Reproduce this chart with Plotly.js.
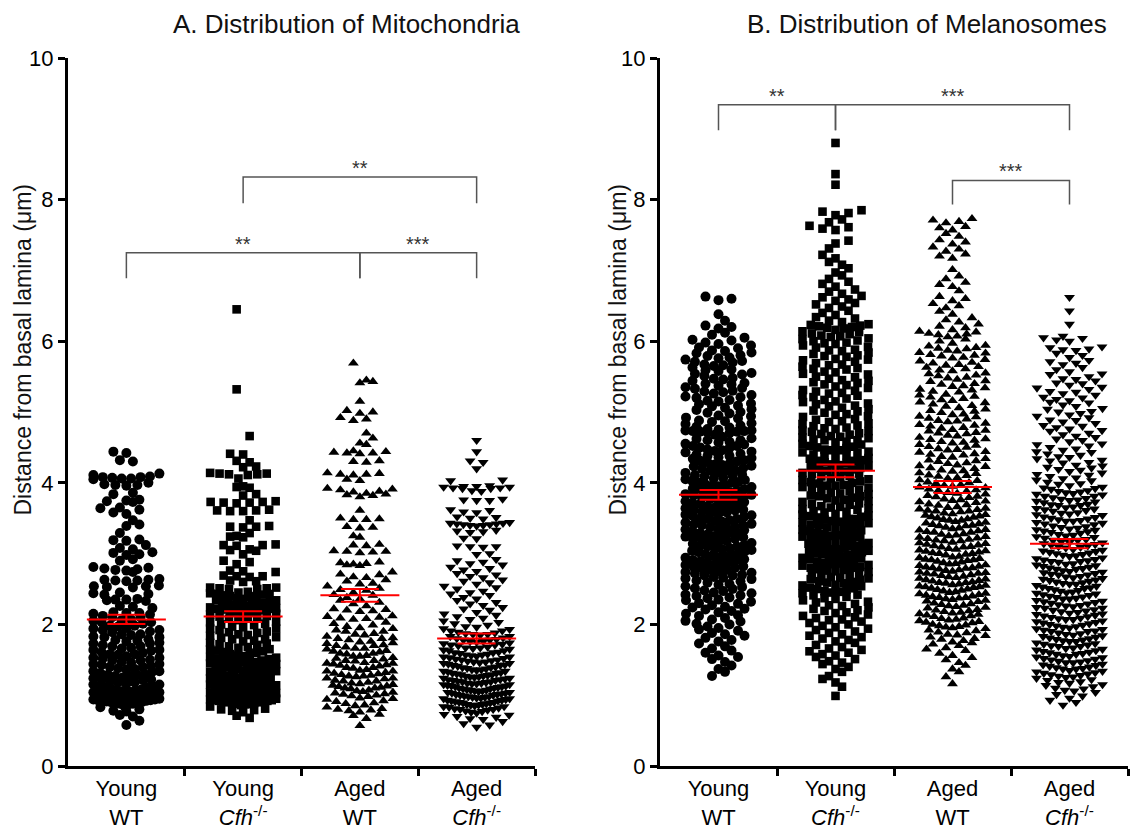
<!DOCTYPE html>
<html><head><meta charset="utf-8">
<script src="https://cdn.plot.ly/plotly-3.0.1.min.js"></script>
<style>html,body{margin:0;padding:0;background:#fff}#chart{width:1133px;height:834px}</style>
</head><body><div id="chart"></div>
<script>
// ---------------- data (µm) ----------------
const groups = ['Young<br>WT', 'Young<br><i>Cfh</i><sup>-/-</sup>', 'Aged<br>WT', 'Aged<br><i>Cfh</i><sup>-/-</sup>'];
const yTicks = [0, 2, 4, 6, 8, 10];

const mitoYoungWT = [4.44,4.42,4.32,4.30,4.13,4.11,4.09,4.08,4.08,4.07,4.06,4.06,4.05,4.00,3.98,3.97,3.97,3.96,3.86,3.84,3.76,3.75,3.74,3.73,3.65,3.64,3.62,3.58,3.56,3.47,3.41,3.39,3.29,3.20,3.19,3.18,3.12,3.08,3.06,3.02,3.01,2.99,2.98,2.92,2.90,2.81,2.80,2.79,2.78,2.77,2.76,2.74,2.64,2.63,2.63,2.62,2.62,2.61,2.55,2.54,2.54,2.53,2.52,2.45,2.44,2.43,2.42,2.36,2.35,2.35,2.34,2.33,2.26,2.25,2.23,2.17,2.16,2.16,2.15,2.14,
2.12,2.10,2.10,2.07,2.06,2.05,2.03,2.03,2.01,1.98,1.98,1.97,1.95,1.94,1.92,1.92,1.90,1.89,1.86,1.86,1.85,1.83,1.82,1.82,1.79,1.78,1.77,1.76,1.74,1.73,1.73,1.71,1.69,1.69,1.67,1.66,1.64,1.64,1.63,1.61,1.60,1.58,1.58,1.57,1.55,1.53,1.53,1.52,1.50,1.49,1.49,1.47,1.46,1.44,1.44,1.43,1.41,1.40,1.40,1.38,1.37,1.36,1.34,1.34,1.33,1.31,1.30,1.29,1.29,1.27,1.26,1.25,1.24,1.22,1.22,1.21,1.19,1.18,1.18,1.16,1.15,1.15,1.13,1.12,1.11,1.11,1.09,1.08,1.07,1.07,1.05,1.04,1.04,1.03,1.01,1.00,1.00,0.99,0.98,0.97,0.97,0.96,0.95,0.94,0.94,0.93,0.92,0.92,0.91,0.90,0.90,0.89,0.89,0.88,0.88,0.87,0.96,1.02,1.06,0.93,
0.85,0.83,0.80,0.78,0.77,0.72,0.70,0.64,0.58];

const mitoYoungCfh = [6.45,5.32,4.66,4.41,4.40,4.31,4.29,4.23,4.22,4.14,4.13,4.13,4.12,4.12,4.11,4.06,3.95,3.94,3.93,3.84,3.82,3.74,3.73,3.73,3.72,3.72,3.71,3.62,3.61,3.61,3.60,3.60,3.47,3.39,3.38,3.38,3.37,3.29,3.25,3.24,3.23,3.13,3.12,3.12,3.11,3.06,3.05,3.04,2.99,2.90,2.88,2.85,2.76,2.75,2.74,2.69,2.68,2.68,2.67,2.62,2.61,2.60,2.52,2.52,2.51,2.51,2.50,2.50,
2.46,2.45,2.44,2.43,2.43,2.41,2.40,2.40,2.38,2.37,2.36,2.34,2.34,2.33,2.31,2.30,2.30,2.29,2.27,2.26,2.26,2.24,2.23,2.22,2.22,2.20,2.19,2.18,2.18,2.17,2.16,2.15,2.42,2.28,2.21,
2.14,2.12,2.11,2.09,2.08,2.08,2.06,2.04,2.03,2.01,2.00,1.99,1.97,1.96,1.94,1.94,1.92,1.90,1.89,1.88,1.86,1.85,1.84,1.82,1.81,1.79,1.79,1.77,1.76,1.74,1.73,1.72,1.71,1.69,1.68,1.67,1.65,1.65,1.63,1.62,1.61,1.60,1.58,1.57,1.56,1.55,1.54,1.53,1.51,1.50,1.49,1.48,1.47,1.47,1.45,1.44,1.43,1.42,1.41,1.40,1.39,1.38,1.38,1.36,1.35,1.34,1.33,1.33,1.31,1.30,1.29,1.28,1.27,1.27,1.25,1.24,1.23,1.22,1.21,1.21,1.19,1.18,1.17,1.16,1.16,1.14,1.13,1.12,1.12,1.11,1.09,1.08,1.07,1.07,1.06,1.04,1.03,1.03,1.02,1.00,0.99,0.99,0.98,0.97,0.96,0.96,0.94,0.93,0.93,0.92,0.91,0.91,0.90,0.89,0.89,0.88,0.87,0.86,1.46,1.37,1.32,1.26,1.20,1.15,1.10,1.05,1.01,0.98,0.95,0.92,0.90,0.88,1.52,1.41,1.19,1.06,
0.84,0.81,0.80,0.79,0.78,0.76,0.71,0.68];

const mitoAgedWT = [5.69,5.45,5.43,5.41,5.15,5.02,5.00,4.98,4.92,4.90,4.88,4.70,4.63,4.56,4.54,4.45,4.44,4.43,4.42,4.42,4.41,4.31,4.30,4.29,4.14,4.13,4.12,4.12,4.11,4.05,4.03,3.92,3.91,3.90,3.88,3.87,3.85,3.84,3.83,3.82,3.80,3.61,3.50,3.49,3.48,3.48,3.38,3.37,3.36,3.25,3.23,3.13,3.12,3.11,3.04,3.03,3.03,3.02,3.01,
2.88,2.87,2.86,2.85,2.84,2.83,2.74,2.71,2.70,2.67,2.66,2.63,2.61,2.58,2.57,2.54,2.51,2.49,2.48,2.45,2.42,2.41,2.38,2.36,2.34,2.31,2.29,2.26,2.22,2.21,2.20,2.19,2.18,2.12,2.11,2.10,2.09,2.08,2.07,2.03,2.01,1.99,1.97,
1.95,1.94,1.92,1.90,1.90,1.87,1.86,1.85,1.83,1.81,1.80,1.80,1.78,1.76,1.75,1.74,1.73,1.71,1.70,1.70,1.68,1.66,1.66,1.65,1.63,1.62,1.61,1.59,1.59,1.58,1.56,1.55,1.55,1.53,1.52,1.51,1.49,1.49,1.48,1.46,1.45,1.45,1.43,1.42,1.41,1.39,1.39,1.38,1.36,1.35,1.34,1.34,1.32,1.31,1.30,1.29,1.28,1.27,1.26,1.24,1.24,1.23,1.21,1.20,1.20,1.18,1.17,1.16,1.15,1.14,1.13,1.12,1.10,1.10,1.09,1.07,1.06,1.05,1.04,1.02,1.01,1.00,0.99,0.98,0.96,0.95,0.94,0.92,0.91,0.89,0.88,0.86,0.85,0.83,0.81,0.80,0.79,0.78,0.76,0.73,0.71,0.67,0.57,1.44,1.27,1.11,1.03];

const mitoAgedCfh = [4.60,4.44,4.31,4.29,4.20,4.04,4.03,3.96,3.95,3.95,3.94,3.94,3.93,3.93,3.92,3.92,3.89,3.88,3.77,3.76,3.75,3.75,3.62,3.61,3.59,3.58,3.52,3.51,3.50,3.49,3.44,3.43,3.43,3.42,3.42,3.41,3.41,3.40,3.40,3.39,3.33,3.32,3.31,3.30,3.22,3.21,3.11,3.10,3.10,3.09,3.00,2.99,
2.92,2.90,2.88,2.86,2.84,2.81,2.79,2.77,2.75,2.72,2.70,2.68,2.66,2.63,2.61,2.59,2.57,2.54,2.52,2.50,2.47,2.45,2.43,2.41,2.38,2.36,2.34,2.31,2.29,2.27,2.24,2.22,2.20,2.17,2.15,2.13,2.11,2.09,2.07,2.05,
2.03,2.01,1.99,1.97,1.96,1.94,1.93,1.91,1.91,1.89,1.88,1.87,1.86,1.86,1.85,1.83,1.83,1.81,1.80,1.79,1.78,1.78,1.76,1.76,1.75,1.74,1.73,1.72,1.71,1.71,1.70,1.68,1.67,1.67,1.66,1.65,1.64,1.63,1.63,1.61,1.60,1.60,1.59,1.58,1.57,1.57,1.56,1.55,1.54,1.54,1.53,1.52,1.51,1.50,1.50,1.49,1.48,1.47,1.47,1.46,1.45,1.45,1.44,1.43,1.42,1.42,1.41,1.40,1.39,1.39,1.38,1.37,1.36,1.36,1.35,1.34,1.34,1.33,1.32,1.31,1.31,1.30,1.29,1.29,1.28,1.27,1.27,1.26,1.26,1.25,1.24,1.24,1.23,1.22,1.22,1.21,1.21,1.20,1.19,1.19,1.18,1.17,1.17,1.16,1.16,1.15,1.15,1.14,1.13,1.13,1.12,1.12,1.11,1.10,1.10,1.09,1.09,1.08,1.07,1.07,1.06,1.06,1.05,1.04,1.04,1.03,1.03,1.02,1.01,1.01,1.00,1.00,0.99,0.98,0.98,0.97,0.97,0.96,0.96,0.95,0.95,0.94,0.93,0.93,0.92,0.92,0.91,0.90,0.90,0.89,0.89,0.88,0.87,0.87,0.86,0.86,0.85,0.84,0.84,0.83,0.82,0.81,0.80,0.80,0.79,0.78,0.77,0.76,0.75,0.73,0.72,0.70,0.69,0.67,0.66,0.63,0.60,0.58,0.55];

const melYoungWT = [6.63,6.60,6.58,6.38,6.29,6.22,6.20,6.18,6.12,6.09,6.05,6.02,6.01,5.98,5.96,5.94,5.91,5.90,5.87,5.86,5.84,5.83,5.80,5.79,5.77,5.76,5.74,5.72,5.71,5.70,5.67,5.66,5.65,5.63,5.60,5.59,5.58,5.55,5.54,5.53,5.51,5.48,5.47,5.46,5.44,5.41,5.40,5.39,5.37,5.35,5.34,5.33,5.30,5.29,5.28,5.26,5.24,5.22,5.21,5.20,5.17,5.16,5.15,5.12,5.11,5.09,5.08,5.06,5.04,5.03,5.00,4.99,4.98,4.95,4.94,4.92,4.91,4.88,4.87,4.86,4.84,4.83,4.81,4.79,4.78,4.76,
4.75,4.74,4.74,4.73,4.73,4.72,4.72,4.71,4.70,4.68,
4.65,4.63,4.62,4.60,4.60,4.58,4.57,4.55,4.54,4.52,4.52,4.50,4.49,4.47,4.46,4.45,4.44,4.43,4.41,4.40,4.38,4.38,4.36,4.35,4.34,4.32,4.31,4.30,4.29,4.27,4.26,4.25,4.24,4.23,4.21,4.20,4.18,4.17,4.17,4.15,4.14,4.12,4.11,4.10,4.09,4.07,4.06,4.05,
4.04,4.03,4.01,4.00,4.00,3.98,3.97,3.96,3.95,3.94,3.92,3.91,3.91,3.89,3.88,3.87,3.86,3.85,3.84,3.83,3.82,3.80,3.79,3.79,3.77,3.76,3.75,3.74,3.73,3.71,3.70,3.70,3.68,3.67,3.66,3.65,3.64,3.62,3.61,3.61,3.59,3.58,3.57,3.56,3.55,3.54,3.53,3.52,3.50,3.49,3.49,3.47,3.46,3.45,3.44,3.42,3.41,3.40,3.40,3.38,3.37,3.36,3.35,3.34,3.33,3.31,3.30,3.29,3.29,3.27,3.26,3.25,3.24,3.23,3.21,3.21,3.19,3.18,3.17,3.16,3.15,3.14,3.12,3.11,3.10,3.10,3.08,3.07,3.06,3.05,3.04,3.03,3.02,3.00,2.99,2.99,2.97,2.96,2.95,2.94,2.92,2.91,2.91,2.89,2.88,2.87,2.86,2.85,
2.84,2.82,2.81,2.80,2.79,2.77,2.77,2.75,2.74,2.73,2.72,2.70,2.69,2.69,2.67,2.66,2.65,
2.64,2.62,2.61,2.59,2.57,2.56,2.54,2.53,2.51,2.50,2.48,2.47,2.45,2.44,2.42,2.41,2.40,2.38,2.37,2.35,2.34,2.32,2.30,2.29,2.27,2.25,2.24,2.22,2.21,2.19,2.17,2.15,2.13,2.12,2.09,2.07,2.05,2.04,2.01,2.00,1.97,1.95,1.93,1.91,1.88,1.86,1.84,1.81,1.78,1.76,1.73,1.69,1.66,1.63,1.60,1.56,1.54,1.51,1.47,1.42,1.37,1.33,1.27];

const melYoungCfh = [8.80,8.36,8.21,7.85,7.83,7.81,7.78,7.72,7.68,7.63,7.61,7.59,7.57,7.42,7.38,7.31,7.22,7.17,7.12,7.08,7.03,6.97,6.93,6.88,6.84,6.81,6.77,6.73,6.70,6.67,6.64,6.62,6.59,6.57,6.54,6.52,6.49,6.47,6.43,6.40,6.37,6.34,6.32,6.29,6.27,
6.24,6.23,6.22,6.21,6.20,6.19,6.18,6.16,6.14,6.13,6.11,6.10,6.08,6.07,6.06,6.04,6.03,6.01,6.00,5.98,5.97,5.96,
5.94,5.92,5.91,5.88,5.87,5.86,5.84,5.82,5.80,5.79,5.78,5.75,5.74,5.73,5.71,5.69,5.67,5.66,5.64,5.62,5.61,5.60,5.57,5.56,5.54,5.53,5.50,5.49,5.47,5.45,5.44,5.42,5.41,5.39,5.38,5.36,5.34,5.31,5.30,5.29,5.27,5.26,5.24,5.23,5.21,5.19,5.17,5.15,5.14,5.12,5.11,5.09,5.08,5.06,
5.04,5.02,5.01,4.99,4.97,4.96,4.94,4.93,4.90,4.89,4.87,4.86,4.84,4.83,4.81,4.80,4.78,4.77,4.76,
4.74,4.73,4.72,4.70,4.69,4.68,4.66,4.65,4.64,4.63,4.61,4.60,4.60,4.58,4.57,4.55,4.54,4.52,4.51,4.50,4.49,4.47,4.46,4.46,4.44,4.43,4.42,4.40,4.39,4.38,4.36,4.35,4.34,4.32,4.31,4.31,4.29,4.28,4.26,4.25,4.24,4.23,4.21,4.20,4.19,4.17,4.16,4.15,4.14,4.13,4.12,4.10,4.09,4.08,4.06,4.05,4.04,4.02,4.01,4.00,3.99,3.97,3.96,3.96,3.94,3.93,3.92,3.90,3.89,3.88,3.86,3.85,3.84,3.82,3.81,3.81,3.79,3.78,3.76,3.75,3.74,3.73,3.71,3.70,3.69,3.67,3.66,3.65,3.64,3.63,3.62,3.60,3.59,3.58,3.56,3.55,
3.54,3.53,3.52,3.51,3.49,3.48,3.47,3.46,3.45,3.44,3.43,3.41,3.41,3.40,3.38,3.37,3.36,3.35,3.34,3.33,3.32,3.30,3.29,3.28,3.28,3.26,3.25,3.24,3.23,3.22,3.21,3.19,3.18,3.17,3.16,3.15,
3.14,3.13,3.12,3.11,3.10,3.10,3.08,3.07,3.06,3.06,3.04,3.03,3.02,3.01,3.01,2.99,2.98,2.97,2.96,2.96,2.94,2.93,2.92,2.91,2.89,2.88,2.87,2.86,2.85,2.84,2.83,2.81,2.80,2.80,2.78,2.77,2.76,2.75,2.74,2.73,2.71,2.70,2.69,2.67,2.66,2.65,2.64,2.63,2.61,2.60,2.59,2.58,2.56,2.55,2.54,2.52,2.51,2.50,2.49,2.47,2.46,2.45,2.44,2.42,2.41,2.39,2.37,2.36,2.34,2.32,2.31,2.29,2.27,2.26,
2.24,2.22,2.20,2.19,2.17,2.16,2.14,2.12,2.10,2.09,2.07,2.06,2.04,2.02,2.00,1.98,1.96,1.94,1.92,1.90,1.88,1.86,1.84,1.82,1.80,1.78,1.76,1.74,1.71,1.68,1.66,1.64,1.62,1.60,1.58,1.56,1.54,1.51,1.48,1.46,1.44,1.40,1.37,1.33,1.27,1.23,1.18,1.12,0.99];

const melAgedWT = [7.73,7.71,7.69,7.67,7.62,7.60,7.57,7.52,7.48,7.43,7.40,7.37,7.33,7.30,7.27,7.23,7.20,7.17,7.01,6.92,6.88,6.83,6.80,6.77,6.71,6.63,6.60,6.57,6.53,6.50,6.47,6.42,6.38,6.33,6.30,6.27,6.24,6.21,6.19,6.16,
6.14,6.13,6.11,6.10,6.09,6.07,6.06,6.03,6.00,5.97,5.94,5.93,5.91,5.90,5.89,5.87,5.86,5.84,5.83,5.81,5.80,5.79,5.77,5.76,
5.74,5.72,5.70,5.69,5.67,5.66,5.64,5.63,5.61,5.59,5.58,5.55,5.54,5.52,5.51,5.49,5.48,5.46,5.44,5.43,5.40,5.39,5.37,5.36,5.34,5.32,5.31,5.29,5.28,5.25,5.24,5.22,5.21,5.19,5.17,5.16,5.14,5.13,5.11,5.09,5.08,5.06,5.04,5.02,5.01,4.99,4.97,4.96,
4.94,4.93,4.91,4.90,4.88,4.87,4.86,4.84,4.82,4.81,4.80,4.78,4.77,4.75,4.74,4.73,4.71,4.70,4.69,4.67,4.66,4.64,4.62,4.61,4.60,4.58,4.57,4.56,4.54,4.53,4.51,4.50,4.48,4.47,4.46,4.44,4.43,4.41,4.40,4.39,4.37,4.36,4.34,4.32,4.31,4.30,4.28,4.27,4.25,
4.24,4.23,4.21,4.20,4.18,4.17,4.16,4.14,4.13,4.11,4.10,4.09,4.07,4.06,
4.04,4.03,4.01,4.00,3.99,3.97,3.96,3.95,3.94,3.93,3.91,3.90,3.89,3.88,3.86,3.85,3.84,3.82,3.81,3.80,3.79,3.77,3.76,3.75,3.74,3.73,3.72,3.70,3.69,3.68,3.66,3.65,
3.64,3.63,3.62,3.61,3.60,3.60,3.59,3.57,3.56,3.55,3.54,3.53,3.52,3.51,3.50,3.49,3.48,3.47,3.47,3.45,3.44,3.43,3.42,3.41,3.40,3.39,3.39,3.37,3.36,3.35,3.34,3.33,3.32,3.31,3.30,3.30,3.28,3.27,3.26,3.25,3.24,3.23,3.22,3.21,3.20,3.19,3.18,3.18,3.16,3.15,3.14,3.13,3.12,3.11,3.10,3.09,3.09,3.07,3.06,3.05,3.04,3.03,3.02,3.01,3.00,3.00,2.99,2.98,2.96,2.95,
2.94,2.93,2.92,2.91,2.91,2.90,2.89,2.88,2.87,2.86,2.85,2.84,2.83,2.82,2.81,2.80,2.80,2.79,2.78,2.77,2.76,2.75,2.74,2.73,2.72,2.72,2.71,2.70,2.69,2.68,2.67,2.66,2.65,2.64,2.63,2.62,2.61,2.60,2.59,2.59,2.58,2.57,2.56,2.55,2.54,2.53,2.53,2.52,2.51,2.50,2.49,2.48,2.47,2.46,2.45,2.44,2.43,2.42,2.41,2.40,2.39,2.38,2.38,2.37,2.36,2.35,
2.34,2.33,2.32,2.30,2.29,2.28,2.27,2.26,2.25,2.24,2.23,2.21,2.20,2.19,2.18,2.17,2.16,2.15,2.14,2.13,2.12,2.11,2.09,2.08,2.07,2.06,2.05,2.04,2.03,2.02,2.00,1.99,1.98,1.97,1.96,1.95,
1.94,1.92,1.91,1.89,1.88,1.86,1.85,1.84,1.82,1.80,1.79,1.77,1.75,1.74,1.72,1.70,1.67,1.65,1.63,1.59,1.56,1.53,1.50,1.46,1.42,1.37,1.33,1.26,1.16];

const melAgedCfh = [6.62,6.43,6.24,6.07,6.05,6.04,6.02,6.00,5.92,5.91,5.89,5.88,5.87,5.83,5.80,5.77,5.73,5.71,5.69,5.67,5.63,5.60,5.57,
5.54,5.53,5.50,5.47,5.46,5.44,5.41,5.40,5.38,5.35,5.34,5.32,5.29,5.28,5.26,5.24,5.21,5.20,5.18,5.16,5.14,5.13,5.10,5.08,5.05,5.04,5.01,5.00,4.98,4.96,
4.94,4.92,4.89,4.88,4.86,4.84,4.81,4.80,4.78,4.76,4.74,4.73,4.70,4.68,4.66,4.64,4.62,4.60,4.58,4.55,4.54,4.52,4.50,4.48,4.46,
4.44,4.43,4.41,4.39,4.37,4.36,4.34,4.32,4.31,4.29,4.28,4.25,4.24,4.22,4.21,4.19,4.18,4.16,4.14,4.12,4.11,4.09,4.07,4.06,4.04,4.03,4.01,3.99,3.98,3.96,
3.94,3.93,3.92,3.91,3.89,3.88,3.87,3.86,3.85,3.84,3.83,3.81,3.81,3.79,3.78,3.77,3.76,3.75,3.74,3.73,3.72,3.70,3.69,3.68,3.68,3.66,3.65,3.64,3.63,3.62,3.61,3.60,3.58,3.57,3.56,3.55,3.54,3.52,3.51,3.50,3.49,3.48,3.47,3.46,3.46,3.44,3.43,3.42,3.41,3.39,3.38,3.37,3.36,3.35,3.34,3.33,3.32,3.31,3.30,3.29,3.27,3.26,3.25,3.24,3.23,3.22,3.20,3.19,3.19,3.17,3.16,3.15,3.14,3.13,3.12,3.11,3.10,3.09,3.08,3.06,3.05,3.04,3.03,3.02,3.01,3.00,2.99,2.98,2.97,2.96,
2.94,2.93,2.92,2.91,2.90,2.89,2.89,2.88,2.86,2.85,2.84,2.83,2.82,2.81,2.80,2.79,2.78,2.78,2.76,2.75,2.74,2.73,2.72,2.71,2.70,2.70,2.68,2.67,2.66,2.65,2.64,2.63,2.62,2.61,2.60,2.59,2.58,2.57,2.57,2.55,2.54,2.53,2.52,2.51,2.51,2.49,2.48,2.47,2.46,2.45,2.44,2.43,2.42,2.41,2.40,2.39,2.38,2.37,2.36,2.36,2.34,2.33,2.32,2.31,2.30,2.29,2.28,2.27,2.26,2.25,2.24,2.23,2.23,2.21,2.20,2.19,2.18,2.17,2.16,2.15,2.14,2.13,2.12,2.11,2.10,2.09,2.08,2.07,2.07,2.05,2.04,2.03,2.02,2.01,2.00,1.99,1.98,1.97,1.96,1.95,
1.94,1.93,1.92,1.91,1.90,1.90,1.88,1.87,1.86,1.85,1.84,1.83,1.82,1.81,1.80,1.79,1.78,1.77,1.76,1.76,1.74,1.73,1.72,1.71,1.70,1.69,1.69,1.67,1.66,1.65,1.64,1.63,1.62,1.61,1.60,1.59,1.58,1.58,1.56,1.55,1.54,1.53,1.52,1.51,1.50,1.49,1.48,1.47,1.46,1.46,1.44,1.43,1.42,1.41,1.40,1.39,1.38,1.37,1.37,1.35,1.34,1.33,1.32,1.31,1.30,1.29,1.28,1.27,1.26,1.25,
1.24,1.22,1.21,1.19,1.18,1.17,1.15,1.14,1.12,1.10,1.09,1.07,1.06,1.04,1.01,0.99,0.96,0.93,0.90,0.86];

// mean and SEM (red bars)
const mitoMean = [2.07, 2.11, 2.41, 1.80];
const mitoSEM  = [0.065, 0.075, 0.09, 0.07];
const melMean  = [3.83, 4.17, 3.94, 3.14];
const melSEM   = [0.07, 0.09, 0.085, 0.065];

// ---------------- layout constants ----------------
const W = 1133, H = 834;
const FONT = 'Liberation Sans, Arial, Helvetica, sans-serif';
const PANELS = [
  {x0: 68, x1: 535, xa: 'x', ya: 'y', titleX: 346, yTitleX: 22.5},
  {x0: 660, x1: 1128, xa: 'x2', ya: 'y2', titleX: 927, yTitleX: 617.5}
];
const Y_TOP = 58, Y_BOT = 766;
const symbols = ['circle', 'square', 'triangle-up', 'triangle-down'];
const msize = [10, 8.6, 9.5, 9.5];

const panelData = [
  {title: 'A. Distribution of Mitochondria', series: [mitoYoungWT, mitoYoungCfh, mitoAgedWT, mitoAgedCfh], mean: mitoMean, sem: mitoSEM,
   brackets: [{a: 1, b: 3, top: 8.32, foot: 7.95, text: '**'}, {a: 0, b: 2, top: 7.25, foot: 6.89, text: '**'}, {a: 2, b: 3, top: 7.25, foot: 6.89, text: '***'}]},
  {title: 'B. Distribution of Melanosomes', series: [melYoungWT, melYoungCfh, melAgedWT, melAgedCfh], mean: melMean, sem: melSEM,
   brackets: [{a: 0, b: 1, top: 9.34, foot: 8.98, text: '**'}, {a: 1, b: 3, top: 9.34, foot: 8.98, text: '***'}, {a: 2, b: 3, top: 8.27, foot: 7.93, text: '***'}]}
];

// Prism-like row scatter: values binned into rows, spread centre-out on a staggered lattice
function swarm(values, center, pxPerUnit) {
  const binH = 0.1, step = 13 / pxPerUnit, maxHalf = 33 / pxPerUnit;
  const bins = {};
  values.forEach(v => { const k = Math.round(v / binH); (bins[k] = bins[k] || []).push(v); });
  const xs = [], ys = [];
  Object.keys(bins).forEach(key => {
    const k = Math.abs(parseInt(key, 10));
    const arr = bins[key].slice().sort((p, q) => p - q);
    const halfLattice = (k % 2 === 1);
    const flip = (Math.floor(k / 2) % 2 === 1) ? -1 : 1;
    const slots = arr.map((v, i) => {
      if (!halfLattice) { const m = Math.ceil(i / 2); return flip * ((i % 2) ? -m : m); }
      const m = Math.floor(i / 2) + 0.5; return flip * ((i % 2) ? m : -m);
    });
    const maxAbs = Math.max.apply(null, slots.map(Math.abs));
    const s = maxAbs > 0 ? Math.min(step, maxHalf / maxAbs) : step;
    arr.forEach((v, i) => { xs.push(center + slots[i] * s); ys.push(v); });
  });
  return {xs, ys};
}

const traces = [], shapes = [], annotations = [];
const layout = {
  width: W, height: H, margin: {l: 0, r: 0, t: 0, b: 0},
  paper_bgcolor: '#fff', plot_bgcolor: '#fff', showlegend: false,
  font: {family: FONT, color: '#000'}
};

PANELS.forEach((P, pi) => {
  const D = panelData[pi];
  const ppu = (P.x1 - P.x0) / 4;
  D.series.forEach((vals, gi) => {
    const sw = swarm(vals, gi, ppu);
    traces.push({type: 'scatter', mode: 'markers', x: sw.xs, y: sw.ys, xaxis: P.xa, yaxis: P.ya,
      cliponaxis: false, hoverinfo: 'skip',
      marker: {symbol: symbols[gi], size: msize[gi], color: '#000', line: {width: 0}}});
  });
  // mean lines
  const half = 39.5 / ppu, mx = [], my = [];
  D.mean.forEach((m, gi) => { mx.push(gi - half, gi + half, null); my.push(m, m, null); });
  traces.push({type: 'scatter', mode: 'lines', x: mx, y: my, xaxis: P.xa, yaxis: P.ya, hoverinfo: 'skip',
    line: {color: 'rgb(255,0,0)', width: 2}});
  // SEM
  traces.push({type: 'scatter', mode: 'markers', x: [0, 1, 2, 3], y: D.mean, xaxis: P.xa, yaxis: P.ya, hoverinfo: 'skip',
    marker: {size: 1, color: 'rgba(0,0,0,0)'},
    error_y: {type: 'data', array: D.sem, visible: true, width: 19, thickness: 2, color: 'rgb(255,0,0)'}});
  // brackets
  D.brackets.forEach(b => {
    shapes.push({type: 'path', xref: P.xa, yref: P.ya,
      path: `M ${b.a},${b.foot} L ${b.a},${b.top} L ${b.b},${b.top} L ${b.b},${b.foot}`,
      line: {color: '#555', width: 1.5}});
    annotations.push({xref: P.xa, yref: P.ya, x: (b.a + b.b) / 2, y: b.top, yshift: 9, text: b.text,
      showarrow: false, xanchor: 'center', yanchor: 'middle', font: {family: FONT, size: 20, color: '#333'}});
  });
  // titles
  annotations.push({xref: 'paper', yref: 'paper', x: P.titleX / W, y: 1 - 24 / H, text: D.title, showarrow: false,
    xanchor: 'center', yanchor: 'middle', font: {family: FONT, size: 26, color: '#111'}});
  annotations.push({xref: 'paper', yref: 'paper', x: P.yTitleX / W, y: 1 - 350 / H, text: 'Distance from basal lamina (μm)',
    textangle: -90, showarrow: false, xanchor: 'center', yanchor: 'middle', font: {family: FONT, size: 23, color: '#111'}});

  const xk = pi === 0 ? 'xaxis' : 'xaxis2', yk = pi === 0 ? 'yaxis' : 'yaxis2';
  layout[xk] = {domain: [P.x0 / W, P.x1 / W], range: [-0.5, 3.5], anchor: P.ya,
    showline: true, linewidth: 3, linecolor: '#000', showgrid: false, zeroline: false, fixedrange: true,
    tickmode: 'array', tickvals: [0, 1, 2, 3], ticktext: groups, ticks: '', ticklabelstandoff: 1,
    tickfont: {family: FONT, size: 22, color: '#000'},
    minor: {tickmode: 'array', tickvals: [0.5, 1.5, 2.5, 3.5], ticks: 'outside', ticklen: 7, tickwidth: 3, tickcolor: '#000', showgrid: false}};
  layout[yk] = {domain: [1 - Y_BOT / H, 1 - Y_TOP / H], range: [0, 10], anchor: P.xa,
    showline: true, linewidth: 3, linecolor: '#000', showgrid: false, zeroline: false, fixedrange: true,
    tickmode: 'array', tickvals: yTicks, ticks: 'outside', ticklen: 7, tickwidth: 3, tickcolor: '#000',
    tickfont: {family: FONT, size: 22, color: '#000'}};
});
layout.shapes = shapes;
layout.annotations = annotations;

Plotly.newPlot('chart', traces, layout, {staticPlot: true, displayModeBar: false});
</script></body></html>
